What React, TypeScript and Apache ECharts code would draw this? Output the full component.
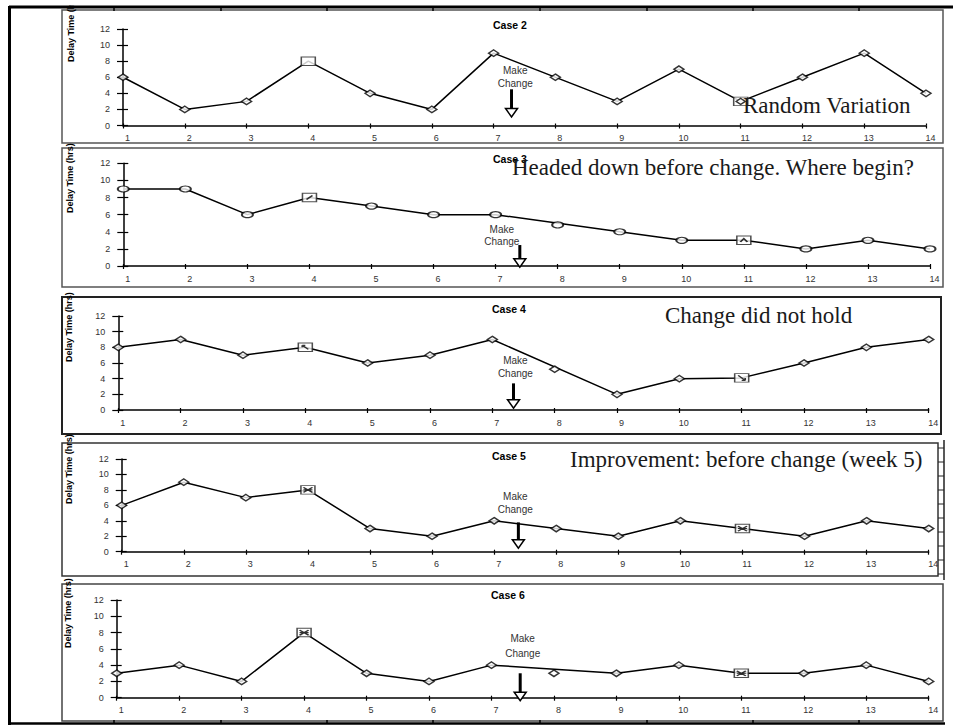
import React, { useEffect, useRef } from "react";
import * as echarts from "echarts";

// Weekly delay time (hrs) for each case
const weeks = [1, 2, 3, 4, 5, 6, 7, 8, 9, 10, 11, 12, 13, 14];
const caseNames = ["Case 2", "Case 3", "Case 4", "Case 5", "Case 6"];
const case2Delay = [6, 2, 3, 8, 4, 2, 9, 6, 3, 7, 3, 6, 9, 4];
const case3Delay = [9, 9, 6, 8, 7, 6, 6, 4.8, 4, 3, 3, 2, 3, 2];
const case4Delay = [8, 9, 7, 8, 6, 7, 9, 5.2, 2, 4, 4.1, 6, 8, 9];
const case5Delay = [6, 9, 7, 8, 3, 2, 4, 3, 2, 4, 3, 2, 4, 3];
const case6Delay = [3, 4, 2, 8, 3, 2, 4, 3, 3, 4, 3, 3, 4, 2];
const caseDelays = [case2Delay, case3Delay, case4Delay, case5Delay, case6Delay];

// week 8 is plotted as a free-standing point; the line runs from week 7 to 9
const detachedWeek = 8;
const boxedWeeks = [4, 11];
const boxGlyphs = [
  ["", "diamond"],
  ["slash", "caret"],
  ["hookUp", "hookDown"],
  ["cross", "cross"],
  ["cross", "cross"],
];

const yMin = 0;
const yMax = 12;
const yStep = 2;
const axisTitle = "Delay Time (hrs)";

// "Make Change" callout per case, in axis units
const changeArrowWeek = [7.29, 7.39, 7.34, 7.39, 7.46];
const changeArrowTop = [4.5, 2.45, 3.4, 3.8, 3.0];
const changeArrowTip = [1.06, -0.15, 0.22, 0.44, -0.37];
const changeLabelWeek = [7.35, 7.1, 7.37, 7.34, 7.5];
const makeLabelY = [6.8, 4.32, 6.3, 7.2, 7.3];
const changeLabelY = [5.2, 2.84, 4.7, 5.4, 5.4];

const comments = [
  "Random Variation",
  "Headed down before change. Where begin?",
  "Change did not hold",
  "Improvement: before change (week 5)",
  "",
];

// Page layout of the five stacked panels
const panelLayout = [
  { frame: [62, 10, 881, 133], grid: [123, 29, 803, 96.5], title: [493, 25], yName: [71, 62], comment: [743, 105.5], stroke: "#555", lw: 1.5 },
  { frame: [62, 148, 881, 139], grid: [123.3, 163.3, 806.7, 102.7], title: [493, 159], yName: [70, 213], comment: [512, 167], stroke: "#555", lw: 1.5 },
  { frame: [62, 297, 879, 137], grid: [118.3, 316, 810.4, 94], title: [492, 309], yName: [69, 362], comment: [665, 315.5], stroke: "#222", lw: 2 },
  { frame: [62, 443, 876, 133], grid: [121.7, 459, 807, 92.7], title: [492, 456], yName: [69, 504], comment: [570, 459], stroke: "#333", lw: 1.5 },
  { frame: [62, 584, 881, 137], grid: [116.7, 600, 812, 97.7], title: [491, 595], yName: [68, 648], comment: [0, 0], stroke: "#444", lw: 1.5 },
];

const SANS = "Arial, 'Liberation Sans', Helvetica, sans-serif";
const SERIF = "'Liberation Serif', 'DejaVu Serif', Georgia, serif";

const glyphPaths: Record<string, { path: string; size: number[]; fill: string }> = {
  diamond: { path: "diamond", size: [9, 6], fill: "#fff" },
  slash: { path: "path://M0,8L10,0", size: [6, 4], fill: "none" },
  caret: { path: "path://M0,8L5,2L10,8", size: [7, 3.5], fill: "none" },
  hookUp: { path: "path://M0,0L10,8M0,0L5,0M0,0L0,4", size: [6, 4], fill: "none" },
  hookDown: { path: "path://M0,0L10,8M10,8L5,8M10,8L10,4", size: [7, 5], fill: "none" },
  cross: { path: "path://M0,0L10,8M10,0L0,8M0,4L10,4", size: [9, 5], fill: "none" },
};

function buildOption() {
  const grid: any[] = [];
  const xAxis: any[] = [];
  const yAxis: any[] = [];
  const series: any[] = [];
  const graphic: any[] = [];

  // ruler-like outer frame
  graphic.push({ type: "line", shape: { x1: 9, y1: 7, x2: 953, y2: 7 }, style: { stroke: "#000", lineWidth: 3 }, z: 50 });
  graphic.push({ type: "line", shape: { x1: 9, y1: 723.5, x2: 945, y2: 723.5 }, style: { stroke: "#000", lineWidth: 2.5 }, z: 50 });
  graphic.push({ type: "line", shape: { x1: 9.5, y1: 6, x2: 9.5, y2: 725 }, style: { stroke: "#000", lineWidth: 3 }, z: 50 });
  const rulerTicks = [114, 221, 327, 433, 540, 647, 753, 859];
  rulerTicks.forEach((x) => {
    graphic.push({ type: "line", shape: { x1: x, y1: 7, x2: x, y2: 11 }, style: { stroke: "#000", lineWidth: 1.5 }, z: 50 });
    graphic.push({ type: "line", shape: { x1: x, y1: 720, x2: x, y2: 724 }, style: { stroke: "#000", lineWidth: 1.5 }, z: 50 });
  });
  // double edge on the right of the fourth panel
  graphic.push({ type: "line", shape: { x1: 944, y1: 440, x2: 944, y2: 580 }, style: { stroke: "#222", lineWidth: 1.5 }, z: 50 });
  for (let y = 448; y < 578; y += 14) {
    graphic.push({ type: "line", shape: { x1: 938, y1: y, x2: 944, y2: y }, style: { stroke: "#222", lineWidth: 1 }, z: 50 });
  }

  caseDelays.forEach((_delay, i) => {
    const L = panelLayout[i];
    const [gl, gt, gw, gh] = L.grid;
    grid.push({ left: gl, top: gt, width: gw, height: gh, containLabel: false });

    const xBase = {
      gridIndex: i,
      type: "value",
      min: weeks[0],
      max: weeks[weeks.length - 1],
      interval: 1,
      position: "bottom",
      splitLine: { show: false },
    };
    const yBase = {
      gridIndex: i,
      type: "value",
      min: yMin,
      max: yMax,
      interval: yStep,
      position: "left",
      splitLine: { show: false },
    };
    // labelled axes
    xAxis.push({
      ...xBase,
      axisLine: { show: true, onZero: false, lineStyle: { color: "#000", width: 1.5 } },
      axisTick: { show: true, length: 3, lineStyle: { color: "#000", width: 1.2 } },
      axisLabel: { show: true, fontSize: 9, color: "#333", fontFamily: SANS, margin: 8, padding: [0, 0, 0, 9] },
    });
    yAxis.push({
      ...yBase,
      axisLine: { show: true, onZero: false, lineStyle: { color: "#000", width: 1.5 } },
      axisTick: { show: true, length: 6, lineStyle: { color: "#000", width: 1.2 } },
      axisLabel: { show: true, fontSize: 9, color: "#333", fontFamily: SANS, margin: 13 },
    });
  });
  // overlay axes giving the ticks that cross the axis line
  caseDelays.forEach((_d, i) => {
    xAxis.push({
      gridIndex: i, type: "value", min: weeks[0], max: weeks[weeks.length - 1], interval: 1, position: "bottom",
      splitLine: { show: false }, axisLine: { show: false, onZero: false },
      axisTick: { show: true, inside: true, length: 2, lineStyle: { color: "#000", width: 1.2 } },
      axisLabel: { show: false },
    });
    yAxis.push({
      gridIndex: i, type: "value", min: yMin, max: yMax, interval: yStep, position: "left",
      splitLine: { show: false }, axisLine: { show: false, onZero: false },
      axisTick: { show: true, inside: true, length: 5, lineStyle: { color: "#000", width: 1.2 } },
      axisLabel: { show: false },
    });
  });

  caseDelays.forEach((delay, i) => {
    const L = panelLayout[i];
    const ax = { xAxisIndex: i, yAxisIndex: i };

    // connecting line
    series.push({
      type: "line",
      ...ax,
      data: weeks.map((w, k) => [w, w === detachedWeek ? null : delay[k]]),
      connectNulls: true,
      showSymbol: false,
      symbol: "none",
      lineStyle: { color: "#000", width: 1.5 },
      z: 2,
      silent: true,
    });
    // open point markers
    series.push({
      type: "scatter",
      ...ax,
      data: weeks.filter((w) => boxedWeeks.indexOf(w) < 0).map((w) => [w, delay[w - 1]]),
      symbol: i === 1 ? "circle" : "diamond",
      symbolSize: i === 1 ? [11, 6] : [10, 6.5],
      itemStyle: { color: "#fff", borderColor: "#000", borderWidth: 1.5 },
      z: 3,
      silent: true,
    });
    // boxed markers
    series.push({
      type: "scatter",
      ...ax,
      data: boxedWeeks.map((w) => [w, delay[w - 1]]),
      symbol: "rect",
      symbolSize: [14, 8.5],
      itemStyle: { color: "#fff", borderColor: "#222", borderWidth: 1.2 },
      z: 4,
      silent: true,
    });
    // glyphs inside the boxes
    series.push({
      type: "scatter",
      ...ax,
      data: boxedWeeks
        .map((w, k) => ({ w, g: boxGlyphs[i][k] }))
        .filter((d) => d.g)
        .map((d) => {
          const gp = glyphPaths[d.g];
          return {
            value: [d.w, delay[d.w - 1]],
            symbol: gp.path,
            symbolSize: gp.size,
            itemStyle: { color: gp.fill, borderColor: "#000", borderWidth: 1.5 },
          };
        }),
      z: 5,
      silent: true,
    });
    // "Make Change" callout
    series.push({
      type: "custom",
      ...ax,
      clip: false,
      silent: true,
      z: 6,
      data: [[changeArrowWeek[i], changeArrowTop[i], changeArrowTip[i], changeLabelWeek[i], makeLabelY[i], changeLabelY[i]]],
      encode: { x: [0, 3], y: [1, 2, 4, 5] },
      renderItem: (_p: any, api: any) => {
        const top = api.coord([api.value(0), api.value(1)]);
        const tip = api.coord([api.value(0), api.value(2)]);
        const make = api.coord([api.value(3), api.value(4)]);
        const chg = api.coord([api.value(3), api.value(5)]);
        const headH = 8.5;
        const headW = 6;
        const textStyle = { fill: "#333", fontSize: 10, fontFamily: SANS, align: "center", verticalAlign: "middle" };
        return {
          type: "group",
          children: [
            { type: "line", shape: { x1: top[0], y1: top[1], x2: tip[0], y2: tip[1] - headH + 1 }, style: { stroke: "#000", lineWidth: 3 } },
            {
              type: "polygon",
              shape: { points: [[tip[0] - headW, tip[1] - headH], [tip[0] + headW, tip[1] - headH], [tip[0], tip[1]]] },
              style: { fill: "#fff", stroke: "#000", lineWidth: 1.5 },
            },
            { type: "text", x: make[0], y: make[1], style: { ...textStyle, text: "Make" } },
            { type: "text", x: chg[0], y: chg[1], style: { ...textStyle, text: "Change" } },
          ],
        };
      },
    });

    // panel frame
    const [fx, fy, fw, fh] = L.frame;
    graphic.push({
      type: "rect",
      shape: { x: fx, y: fy, width: fw, height: fh },
      style: { fill: "none", stroke: L.stroke, lineWidth: L.lw },
      z: 40,
      silent: true,
    });
    // case title
    graphic.push({
      type: "text",
      x: L.title[0],
      y: L.title[1],
      style: { text: caseNames[i], fontSize: 10.5, fontWeight: "bold", fontFamily: SANS, fill: "#000", align: "left", verticalAlign: "middle" },
      z: 41,
      silent: true,
    });
    // rotated axis title
    graphic.push({
      type: "text",
      x: L.yName[0],
      y: L.yName[1],
      rotation: Math.PI / 2,
      style: { text: axisTitle, fontSize: 9, fontWeight: "bold", fontFamily: SANS, fill: "#000", align: "left", verticalAlign: "middle" },
      z: 41,
      silent: true,
    });
    // annotation in large serif type
    if (comments[i]) {
      graphic.push({
        type: "text",
        x: L.comment[0],
        y: L.comment[1],
        style: { text: comments[i], fontSize: 23, fontFamily: SERIF, fill: "#1a1a1a", align: "left", verticalAlign: "middle" },
        z: 45,
        silent: true,
      });
    }
  });

  // blank strip above the page frame
  graphic.push({ type: "rect", shape: { x: 0, y: 0, width: 954, height: 5.5 }, style: { fill: "#fff" }, z: 49, silent: true });

  return {
    animation: false,
    backgroundColor: "#fff",
    grid,
    xAxis,
    yAxis,
    series,
    graphic,
  };
}

export default function App() {
  const ref = useRef<HTMLDivElement>(null);
  useEffect(() => {
    if (!ref.current) return;
    const chart = echarts.init(ref.current, undefined, { renderer: "svg" });
    chart.setOption(buildOption() as any);
    return () => chart.dispose();
  }, []);
  return <div ref={ref} style={{ position: "absolute", left: 0, top: 0, width: 954, height: 726 }} />;
}
